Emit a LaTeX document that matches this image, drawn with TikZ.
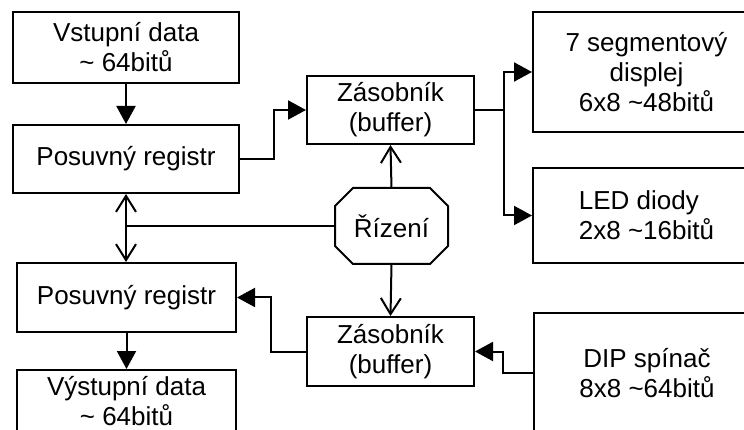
\documentclass[tikz,border=0pt]{standalone}
\usepackage{fontspec}
\setmainfont{Liberation Sans}
\usetikzlibrary{arrows.meta,calc}
\tikzset{
  box/.style={draw, line width=2pt, align=center, inner sep=0pt, font=\fontsize{26}{30}\selectfont},
  farrow/.style={-{Triangle[length=18pt,width=19pt]}, line width=2pt},
  oarrow/.style={-{Straight Barb[length=16pt,width=20pt,line width=2pt]}, line width=2pt},
  plain/.style={line width=2pt},
}
\begin{document}
\begin{tikzpicture}[x=1pt,y=-1pt]
\useasboundingbox (0,0) rectangle (744,430);
\clip (0,0) rectangle (744,430);
\node[box, minimum width=226pt, minimum height=71pt] (vst) at (126,47.5) {Vstupní data\\\textasciitilde\ 64bitů};
\node[box, minimum width=226pt, minimum height=68pt] (pos1) at (126,159) {Posuvný registr};
\node[box, minimum width=219pt, minimum height=69pt] (pos2) at (126.5,297.5) {Posuvný registr};
\node[box, minimum width=219pt, minimum height=63pt] (vys) at (126.5,401.5) {Výstupní data\\\textasciitilde\ 64bitů};
\node[box, minimum width=167pt, minimum height=68pt] (zas1) at (390.5,110) {Zásobník\\(buffer)};
\node[box, minimum width=167pt, minimum height=69pt] (zas2) at (390.5,351.5) {Zásobník\\(buffer)};
\node[box, draw=none, minimum width=111pt, minimum height=74pt] (riz) at (391.5,226) {Řízení};
\draw[plain] ([xshift=18pt]riz.north west) -- ([xshift=-18pt]riz.north east)
  -- ([yshift=-18pt]riz.north east) -- ([yshift=18pt]riz.south east)
  -- ([xshift=-18pt]riz.south east) -- ([xshift=18pt]riz.south west)
  -- ([yshift=18pt]riz.south west) -- ([yshift=-18pt]riz.north west) -- cycle;
\node[box, minimum width=227pt, minimum height=120pt] (seg) at (646.5,72) {7 segmentový\\displej\\6x8 \textasciitilde48bitů};
\node[box, align=left, minimum width=227pt, minimum height=95pt] (led) at (646.5,215.5) {LED diody\\2x8 \textasciitilde16bitů};
\node[box, minimum width=226pt, minimum height=120pt] (dip) at (647,373) {DIP spínač\\8x8 \textasciitilde64bitů};
% connectors
\draw[farrow] (vst.south) -- (pos1.north);
\draw[farrow] (pos1.east) -- ++(34,0) |- (zas1.west);
\draw[plain] (zas1.east) -- ++(29,0) coordinate (sp);
\draw[farrow] (sp) |- (seg.west);
\draw[farrow] (sp) |- (led.west);
\draw[oarrow] (riz.north) -- (zas1.south);
\draw[oarrow] (riz.south) -- (zas2.north);
\coordinate (j) at (pos1.south |- riz.west);
\draw[plain] (riz.west) -- (j);
\draw[oarrow] (j) -- (pos1.south);
\draw[oarrow] (j) -- (j |- pos2.north);
\draw[farrow] (dip.west) -- ++(-30,0) |- (zas2.east);
\draw[farrow] (zas2.west) -- ++(-35,0) |- (pos2.east);
\draw[farrow] (pos2.south) -- (vys.north);
\end{tikzpicture}
\end{document}
